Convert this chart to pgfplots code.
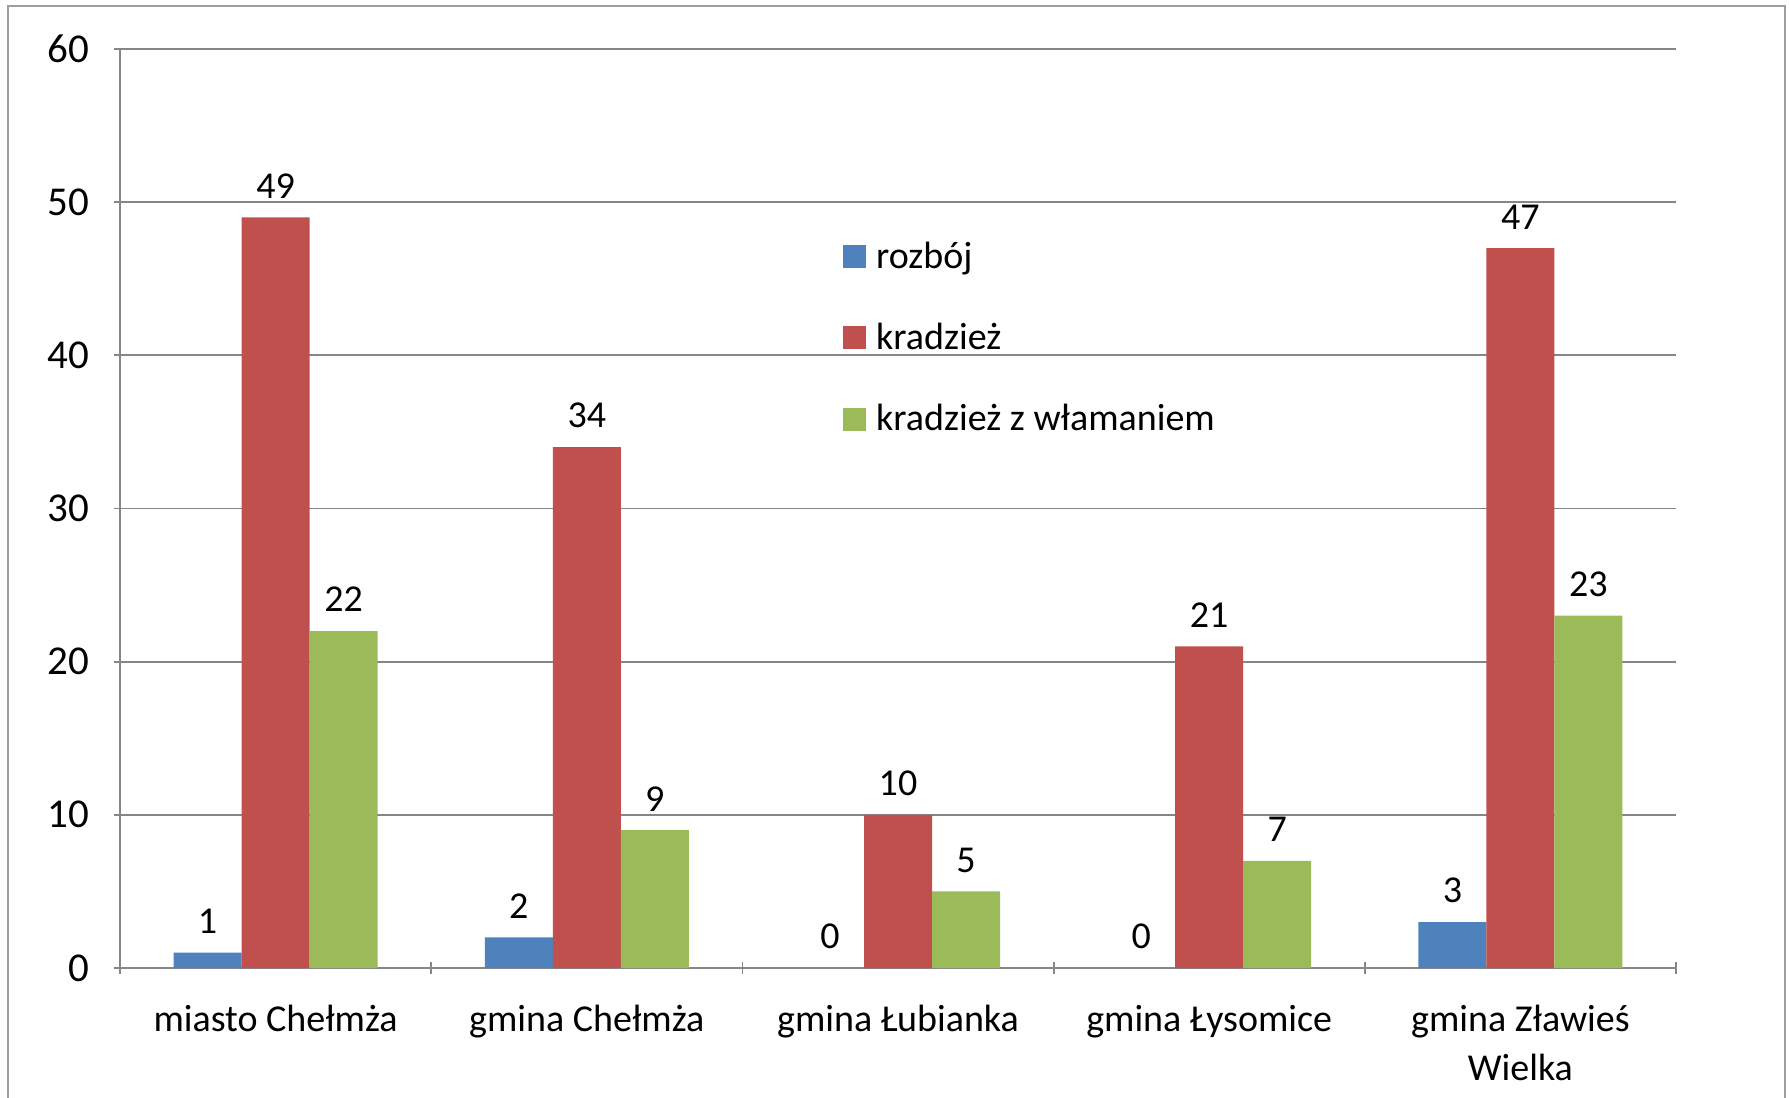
\documentclass[border=0pt]{standalone}
\usepackage{fontspec}
\setmainfont{Carlito}
\usepackage{pgfplots}
\pgfplotsset{compat=1.18}
\definecolor{cblue}{HTML}{4F81BD}
\definecolor{cred}{HTML}{C0504D}
\definecolor{cgreen}{HTML}{9BBB59}
\definecolor{cgrid}{HTML}{868686}
\begin{document}
\begin{tikzpicture}
\useasboundingbox (0,0) rectangle (894.5pt,549pt);
\draw[cgrid!80, line width=1.1pt] (4pt,-20pt) rectangle (892.5pt,546pt);
\begin{axis}[
  at={(60pt,65pt)}, anchor=south west,
  scale only axis, width=778pt, height=459.5pt,
  ybar=0pt, bar width=34pt,
  xmin=-0.5, xmax=4.5, ymin=0, ymax=60,
  ytick={0,10,...,60},
  xtick={0,1,2,3,4},
  xticklabels={miasto Chełmża, gmina Chełmża, gmina Łubianka, gmina Łysomice, {gmina Zławieś\\Wielka}},
  minor xtick={-0.5,0.5,1.5,2.5,3.5,4.5},
  major x tick style={draw=none},
  minor tick length=6pt, major tick length=6pt,
  tick align=outside,
  axis lines=left, axis line style={-, draw=cgrid, line width=0.9pt},
  tick style={cgrid, line width=0.9pt},
  ymajorgrids, grid style={cgrid, line width=0.9pt},
  /pgf/number format/assume math mode=true,
  xticklabel style={align=center, yshift=-12pt, font=\fontsize{19}{24.5}\selectfont},
  yticklabel style={xshift=-9pt, font=\fontsize{20.5}{24.5}\selectfont},
  nodes near coords,
  every node near coord/.append style={font=\fontsize{19}{21}\selectfont, black, yshift=6pt},
  legend style={at={(0.4645,0.795)}, anchor=north west, draw=none, fill=none,
    font=\fontsize{19}{21}\selectfont, row sep=22pt, inner sep=0pt,
    nodes={inner xsep=5pt}},
  legend cell align=left,
  legend image code/.code={\fill[#1] (0pt,-5.75pt) rectangle (11.5pt,5.75pt);},
]
\addplot[fill=cblue, draw=none] coordinates {(0,1) (1,2) (2,0) (3,0) (4,3)};
\addplot[fill=cred, draw=none] coordinates {(0,49) (1,34) (2,10) (3,21) (4,47)};
\addplot[fill=cgreen, draw=none] coordinates {(0,22) (1,9) (2,5) (3,7) (4,23)};
\legend{rozbój, kradzież, kradzież z włamaniem}
\end{axis}
\end{tikzpicture}
\end{document}
